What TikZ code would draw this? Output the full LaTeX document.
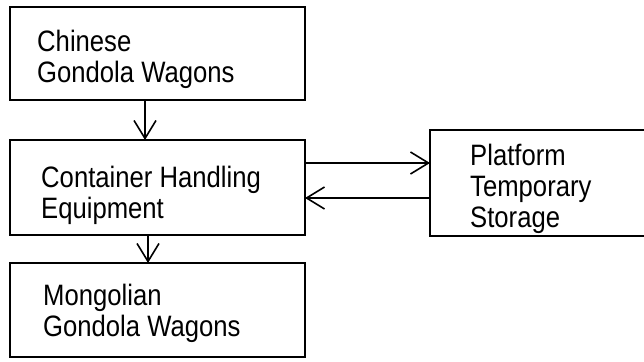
\documentclass[tikz,border=0pt]{standalone}
\usepackage{fontspec}
\setmainfont[FakeStretch=0.87]{Liberation Sans}
\usetikzlibrary{arrows.meta}
\tikzset{
  box/.style={draw, line width=1.8pt, inner sep=0pt, outer sep=0pt},
  txt/.style={anchor=base west, align=left, inner sep=0pt, font=\fontsize{29.5pt}{31pt}\selectfont},
  arr/.style={line width=1.6pt, -{Straight Barb[length=18pt,width=22pt,line width=1.6pt]}}
}
\begin{document}
\begin{tikzpicture}[x=1pt,y=-1pt]
\clip (0,0) rectangle (644,361);
\useasboundingbox (0,0) rectangle (644,361);
\node[box, minimum width=295pt, minimum height=93pt] (b1) at (157.5,53.5) {};
\node[box, minimum width=295pt, minimum height=95pt] (b2) at (157.5,187.5) {};
\node[box, minimum width=295pt, minimum height=94pt] (b3) at (157.5,310) {};
\node[box, minimum width=230pt, minimum height=106pt] (b4) at (545,183) {};
\node[txt] (t1) at (37,82) {Chinese\\Gondola Wagons};
\node[txt] (t2) at (41,218) {Container Handling\\Equipment};
\node[txt] (t3) at (43,336) {Mongolian\\Gondola Wagons};
\node[txt] (t4) at (470,227) {Platform\\Temporary\\Storage};
\draw[arr] ([xshift=-12.5pt]b1.south) -- ([xshift=-12.5pt]b2.north);
\draw[arr] ([xshift=-9.5pt]b2.south) -- ([xshift=-9.5pt]b3.north);
\coordinate (h1) at ([yshift=24.5pt]b2.east);
\coordinate (h2) at ([yshift=-10.5pt]b2.east);
\draw[arr] (h1) -- (h1 -| b4.west);
\draw[arr] (h2 -| b4.west) -- (h2);
\end{tikzpicture}
\end{document}
